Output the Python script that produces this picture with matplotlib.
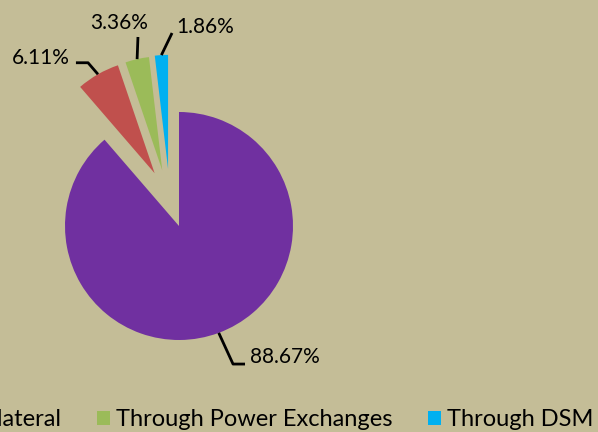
import numpy as np
import matplotlib
matplotlib.use('Agg')
import matplotlib.pyplot as plt
from matplotlib.patches import Patch

plt.rcParams['font.family'] = ['Lato', 'DejaVu Sans']

# share of electricity transacted
labels = ['Long-term', 'Bilateral', 'Through Power Exchanges', 'Through DSM']
shares = [88.67, 6.11, 3.36, 1.86]
colors = ['#7030A0', '#C0504D', '#9BBB59', '#00B0F0']
explode = [0, 0.51, 0.51, 0.51]
# small turn of the pull-out direction (degrees) like in the source chart
explode_turn = [0, -5, 4, 7.5]

bg = '#C4BD97'

# leader line bends and label spots (axes data units, pie radius = 1)
bends = [[(0.474, -1.211), (0.579, -1.211)],
         [(-0.798, 1.432), (-0.904, 1.432)],
         [(-0.36, 1.658)],
         [(-0.061, 1.693)]]
spots = [(0.623, -1.149, 'left'),
         (-0.956, 1.474, 'right'),
         (-0.522, 1.781, 'center'),
         (-0.026, 1.746, 'left')]

fig = plt.figure(figsize=(5.98, 4.32), dpi=100)
fig.patch.set_facecolor(bg)
ax = fig.add_axes([0, 0, 1, 1])
ax.set_facecolor(bg)

wedges, _ = ax.pie(shares, colors=colors, explode=explode, startangle=90,
                   counterclock=False, radius=1)

for w, ex, turn in zip(wedges, explode, explode_turn):
    if ex:
        ang = np.deg2rad((w.theta1 + w.theta2) / 2 + turn)
        w.set_center((ex * np.cos(ang), ex * np.sin(ang)))

# pixel layout: pie centre at (179, 226), radius 114 px
cx, cy, rp = 179, 226, 114
ax.set_xlim(-cx / rp, (598 - cx) / rp)
ax.set_ylim((cy - 432) / rp, cy / rp)
ax.set_aspect('auto')
ax.axis('off')

for w, val, bend, spot in zip(wedges, shares, bends, spots):
    mid = np.deg2rad((w.theta1 + w.theta2) / 2)
    x0 = w.center[0] + w.r * np.cos(mid)
    y0 = w.center[1] + w.r * np.sin(mid)
    xs = [x0] + [p[0] for p in bend]
    ys = [y0] + [p[1] for p in bend]
    ax.plot(xs, ys, color='black', lw=2, solid_capstyle='butt')
    ax.text(spot[0], spot[1], '%.2f%%' % val, ha=spot[2], va='center',
            fontsize=15, color='black')

handles = [Patch(facecolor=c, edgecolor='none') for c in colors]
fig.legend(handles, labels, ncol=4, loc='center right',
           bbox_to_anchor=(593 / 598, 1 - 420 / 432), frameon=False,
           fontsize=17, borderpad=0, borderaxespad=0,
           handlelength=0.56, handleheight=0.56, handletextpad=0.24,
           columnspacing=1.5)

fig.savefig('out.png', dpi=100, facecolor=bg)
